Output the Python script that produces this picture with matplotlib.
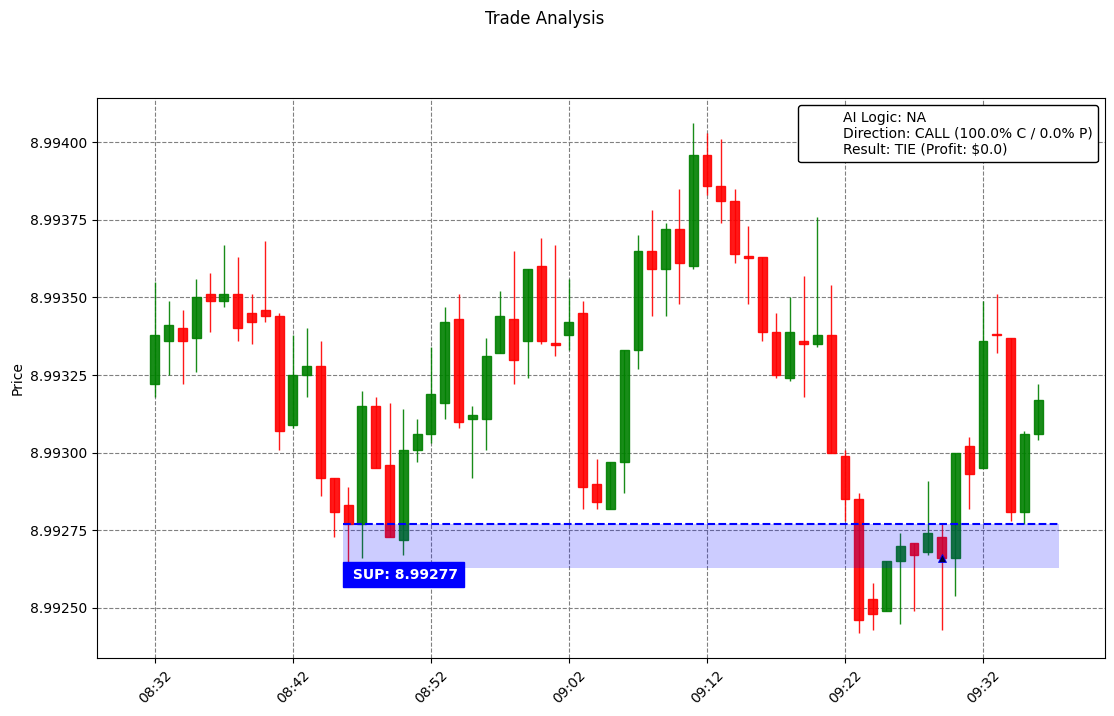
import matplotlib
matplotlib.use("Agg")
import matplotlib.pyplot as plt
import matplotlib.dates as mdates
import matplotlib.ticker as mticker
import pandas as pd

# 1-minute candles, 08:32 - 09:36
times = pd.date_range("2024-01-01 08:32", periods=65, freq="1min")
opens = [8.99322, 8.99336, 8.99340, 8.99337, 8.99351, 8.99349, 8.99351, 8.99345, 8.99346, 8.99344,
         8.99309, 8.99325, 8.99328, 8.99292, 8.99283, 8.99277, 8.99315, 8.99296, 8.99272, 8.99301,
         8.99306, 8.99316, 8.99343, 8.99311, 8.99311, 8.99332, 8.99343, 8.99336, 8.99360, 8.993352,
         8.99338, 8.99345, 8.99290, 8.99282, 8.99297, 8.99333, 8.99365, 8.99359, 8.99372, 8.99360,
         8.99396, 8.99386, 8.99381, 8.993632, 8.99363, 8.99339, 8.99324, 8.99336, 8.99335, 8.99338,
         8.99299, 8.99285, 8.99253, 8.99249, 8.99265, 8.99271, 8.99268, 8.99273, 8.99266, 8.99302,
         8.99295, 8.993381, 8.99337, 8.99281, 8.99306]
highs = [8.99355, 8.99349, 8.99346, 8.99356, 8.99358, 8.99367, 8.99363, 8.99351, 8.99368, 8.99345,
         8.99338, 8.99340, 8.99336, 8.99292, 8.99289, 8.99320, 8.99318, 8.99316, 8.99314, 8.99311,
         8.99334, 8.99347, 8.99351, 8.99315, 8.99337, 8.99352, 8.99365, 8.99359, 8.99369, 8.99367,
         8.99356, 8.99349, 8.99298, 8.99297, 8.99333, 8.99370, 8.99378, 8.99374, 8.99385, 8.99406,
         8.99403, 8.99401, 8.99385, 8.99373, 8.99363, 8.99345, 8.99350, 8.99357, 8.99376, 8.99354,
         8.99301, 8.99287, 8.99258, 8.99265, 8.99274, 8.99271, 8.99291, 8.99277, 8.99300, 8.99305,
         8.99349, 8.99351, 8.99337, 8.99307, 8.99322]
lows = [8.99318, 8.99325, 8.99322, 8.99326, 8.99339, 8.99347, 8.99336, 8.99335, 8.99342, 8.99301,
        8.99308, 8.99318, 8.99286, 8.99273, 8.99264, 8.99266, 8.99295, 8.99273, 8.99267, 8.99297,
        8.99303, 8.99311, 8.99308, 8.99292, 8.99301, 8.99332, 8.99322, 8.99324, 8.99335, 8.99331,
        8.99333, 8.99282, 8.99282, 8.99282, 8.99287, 8.99327, 8.99344, 8.99344, 8.99348, 8.99359,
        8.99383, 8.99374, 8.99361, 8.99348, 8.99336, 8.99324, 8.99323, 8.99318, 8.99334, 8.99300,
        8.99278, 8.99242, 8.99243, 8.99249, 8.99245, 8.99249, 8.99267, 8.99243, 8.99254, 8.99282,
        8.99295, 8.99332, 8.99278, 8.99277, 8.99304]
closes = [8.99338, 8.99341, 8.99336, 8.99350, 8.99349, 8.99351, 8.99340, 8.99342, 8.99344, 8.99307,
          8.99325, 8.99328, 8.99292, 8.99281, 8.99277, 8.99315, 8.99295, 8.99273, 8.99301, 8.99306,
          8.99319, 8.99342, 8.99310, 8.99312, 8.99331, 8.99344, 8.99330, 8.99359, 8.99336, 8.993348,
          8.99342, 8.99289, 8.99284, 8.99297, 8.99333, 8.99365, 8.99359, 8.99372, 8.99361, 8.99396,
          8.99386, 8.99381, 8.99364, 8.993628, 8.99339, 8.99325, 8.99339, 8.99335, 8.99338, 8.99300,
          8.99285, 8.99246, 8.99248, 8.99265, 8.99270, 8.99267, 8.99274, 8.99266, 8.99300, 8.99293,
          8.99336, 8.993378, 8.99281, 8.99306, 8.99317]

# 支撑区
sup_level = 8.99277
zone_low = 8.99263
zone_start = times[14] - pd.Timedelta(seconds=21)
zone_end = times[-1] + pd.Timedelta(seconds=90)
entry_idx = 57

info_lines = ["AI Logic: NA",
              "Direction: CALL (100.0% C / 0.0% P)",
              "Result: TIE (Profit: $0.0)"]

fig, ax = plt.subplots(figsize=(11.14, 7.16), dpi=100)
fig.subplots_adjust(left=97 / 1114, right=1105 / 1114, bottom=58 / 716, top=618 / 716)

x = mdates.date2num(times)
width = 0.65 / 1440
colors = ['green' if c >= o else 'red' for o, c in zip(opens, closes)]
bottoms = [min(o, c) for o, c in zip(opens, closes)]
heights = [max(abs(c - o), 1e-7) for o, c in zip(opens, closes)]

ax.vlines(x, lows, highs, colors=colors, linewidth=1, alpha=0.9, zorder=2)
ax.bar(x, heights, width, bottom=bottoms, color=colors, edgecolor=colors,
       linewidth=1, alpha=0.9, zorder=3)

# 入场标记
ax.plot(x[entry_idx], closes[entry_idx], marker='^', color='black',
        markeredgecolor='blue', markeredgewidth=0.6, markersize=6, zorder=3.5)

# 支撑线 + 区域
zx = mdates.date2num([zone_start, zone_end])
ax.fill_between(zx, zone_low, sup_level, color='blue', alpha=0.2, linewidth=0, zorder=4)
ax.hlines(sup_level, zx[0], zx[1], colors='blue', linestyles='--', linewidth=1.5, zorder=5)
ax.text(x[14], zone_low, f" SUP: {sup_level:.5f}", color='white', fontweight='bold',
        fontsize=10, ha='left', va='top', zorder=6,
        bbox=dict(facecolor='blue', edgecolor='blue'))

ax.plot([], [], ' ', label="\n".join(info_lines))
ax.legend(loc='upper right', framealpha=1, edgecolor='black')

ax.set_xlim(x[0] - 4.2 / 1440, x[0] + 68.84 / 1440)
ax.set_ylim(8.992339, 8.994142)
ax.set_xticks(x[::10])
ax.xaxis.set_major_formatter(mdates.DateFormatter('%H:%M'))
plt.setp(ax.get_xticklabels(), rotation=45)
ax.set_yticks([8.9925, 8.99275, 8.993, 8.99325, 8.9935, 8.99375, 8.994])
ax.yaxis.set_major_formatter(mticker.FormatStrFormatter('%.5f'))
ax.set_axisbelow(True)
ax.grid(True, linestyle='--', color='gray')
ax.set_ylabel("Price")
fig.suptitle("Trade Analysis", x=0.489, y=0.986, fontsize=12)

fig.savefig("out.png", dpi=100)
